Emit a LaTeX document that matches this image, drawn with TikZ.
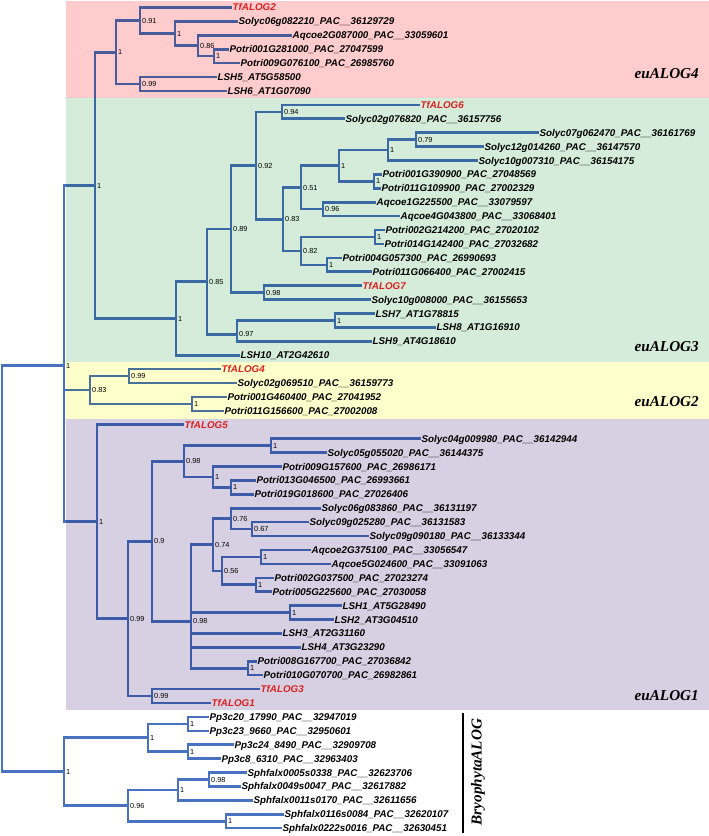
\documentclass[tikz,border=0pt]{standalone}
\usepackage{fontspec}
\usepackage{tikz}
\newfontfamily\leaffont{Liberation Sans}
\newfontfamily\cladefont{Liberation Serif}
\definecolor{treeblue}{RGB}{72,114,192}
\definecolor{tfred}{RGB}{220,32,32}
\definecolor{eufour}{RGB}{255,204,206}
\definecolor{euthree}{RGB}{212,236,217}
\definecolor{eutwo}{RGB}{255,255,204}
\definecolor{euone}{RGB}{215,208,226}
\pgfdeclarelayer{branches}
\pgfdeclarelayer{shades}
\pgfsetlayers{branches,shades,main}

\begin{document}
\begin{tikzpicture}[
        x=1pt, y=-13.91pt,
        leaf/.style={anchor=west,inner sep=1.5pt,text height=7pt,text depth=0pt,
            font=\leaffont\bfseries\itshape\fontsize{9.8}{11}\selectfont},
        tf/.style={leaf,text=tfred},
        fork/.style={circle,inner sep=0pt,minimum size=0pt},
        supp/.style={fork,label={[xshift=1.8pt,inner sep=0pt,text height=5.2pt,text depth=0pt,
            font=\leaffont\fontsize{7.3}{8}\selectfont]east:#1}},
        clade/.style={inner sep=0pt,font=\cladefont\bfseries\itshape\fontsize{15.2}{17}\selectfont},
        every edge/.style={draw=treeblue,line width=2.6pt,line cap=rect,to path={|- (\tikztotarget)}}
    ]
    \useasboundingbox (0,-0.5392) rectangle (709,59.562);

    \node[tf]   (tf2)   at (231,0)  {TfALOG2};
    \node[leaf] (so06)  at (237,1)  {Solyc06g082210\_PAC\_\_36129729};
    \node[leaf] (aq2)   at (291,2)  {Aqcoe2G087000\_PAC\_\_33059601};
    \node[leaf] (po01)  at (228,3)  {Potri001G281000\_PAC\_27047599};
    \node[leaf] (po09)  at (239,4)  {Potri009G076100\_PAC\_26985760};
    \node[leaf] (lsh5)  at (216,5)  {LSH5\_AT5G58500};
    \node[leaf] (lsh6)  at (226,6)  {LSH6\_AT1G07090};

    \node[tf]   (tf6)   at (419,7)  {TfALOG6};
    \node[leaf] (so02)  at (344,8)  {Solyc02g076820\_PAC\_\_36157756};
    \node[leaf] (so07)  at (538,9)  {Solyc07g062470\_PAC\_\_36161769};
    \node[leaf] (so12)  at (483,10) {Solyc12g014260\_PAC\_\_36147570};
    \node[leaf] (so10)  at (477,11) {Solyc10g007310\_PAC\_\_36154175};
    \node[leaf] (po01b) at (381,12) {Potri001G390900\_PAC\_27048569};
    \node[leaf] (po11)  at (380,13) {Potri011G109900\_PAC\_27002329};
    \node[leaf] (aq1)   at (375,14) {Aqcoe1G225500\_PAC\_\_33079597};
    \node[leaf] (aq4)   at (399,15) {Aqcoe4G043800\_PAC\_\_33068401};
    \node[leaf] (po02)  at (384,16) {Potri002G214200\_PAC\_27020102};
    \node[leaf] (po14)  at (383,17) {Potri014G142400\_PAC\_27032682};
    \node[leaf] (po04)  at (341,18) {Potri004G057300\_PAC\_26990693};
    \node[leaf] (po11b) at (371,19) {Potri011G066400\_PAC\_27002415};
    \node[tf]   (tf7)   at (361,20) {TfALOG7};
    \node[leaf] (so10b) at (370,21) {Solyc10g008000\_PAC\_\_36155653};
    \node[leaf] (lsh7)  at (374,22) {LSH7\_AT1G78815};
    \node[leaf] (lsh8)  at (435,23) {LSH8\_AT1G16910};
    \node[leaf] (lsh9)  at (371,24) {LSH9\_AT4G18610};
    \node[leaf] (lsh10) at (239,25) {LSH10\_AT2G42610};

    \node[tf]   (tf4)   at (220,26) {TfALOG4};
    \node[leaf] (so02b) at (236,27) {Solyc02g069510\_PAC\_\_36159773};
    \node[leaf] (po01c) at (226,28) {Potri001G460400\_PAC\_27041952};
    \node[leaf] (po11c) at (223,29) {Potri011G156600\_PAC\_27002008};

    \node[tf]   (tf5)   at (183,30) {TfALOG5};
    \node[leaf] (so04)  at (420,31) {Solyc04g009980\_PAC\_\_36142944};
    \node[leaf] (so05)  at (326,32) {Solyc05g055020\_PAC\_\_36144375};
    \node[leaf] (po09b) at (281,33) {Potri009G157600\_PAC\_26986171};
    \node[leaf] (po13)  at (255,34) {Potri013G046500\_PAC\_26993661};
    \node[leaf] (po19)  at (253,35) {Potri019G018600\_PAC\_27026406};
    \node[leaf] (so06b) at (320,36) {Solyc06g083860\_PAC\_\_36131197};
    \node[leaf] (so09)  at (308,37) {Solyc09g025280\_PAC\_\_36131583};
    \node[leaf] (so09b) at (368,38) {Solyc09g090180\_PAC\_\_36133344};
    \node[leaf] (aq2b)  at (310,39) {Aqcoe2G375100\_PAC\_\_33056547};
    \node[leaf] (aq5)   at (330,40) {Aqcoe5G024600\_PAC\_\_33091063};
    \node[leaf] (po02b) at (273,41) {Potri002G037500\_PAC\_27023274};
    \node[leaf] (po05)  at (271,42) {Potri005G225600\_PAC\_27030058};
    \node[leaf] (lsh1)  at (341,43) {LSH1\_AT5G28490};
    \node[leaf] (lsh2)  at (333,44) {LSH2\_AT3G04510};
    \node[leaf] (lsh3)  at (281,45) {LSH3\_AT2G31160};
    \node[leaf] (lsh4)  at (300,46) {LSH4\_AT3G23290};
    \node[leaf] (po08)  at (256,47) {Potri008G167700\_PAC\_27036842};
    \node[leaf] (po10)  at (262,48) {Potri010G070700\_PAC\_26982861};
    \node[tf]   (tf3)   at (259,49) {TfALOG3};
    \node[tf]   (tf1)   at (210,50) {TfALOG1};

    \node[leaf] (pp20)  at (208,51) {Pp3c20\_17990\_PAC\_\_32947019};
    \node[leaf] (pp23)  at (208,52) {Pp3c23\_9660\_PAC\_\_32950601};
    \node[leaf] (pp24)  at (233,53) {Pp3c24\_8490\_PAC\_\_32909708};
    \node[leaf] (pp8)   at (220,54) {Pp3c8\_6310\_PAC\_\_32963403};
    \node[leaf] (sf05)  at (246,55) {Sphfalx0005s0338\_PAC\_\_32623706};
    \node[leaf] (sf49)  at (240,56) {Sphfalx0049s0047\_PAC\_\_32617882};
    \node[leaf] (sf11)  at (252,57) {Sphfalx0011s0170\_PAC\_\_32611656};
    \node[leaf] (sf116) at (283,58) {Sphfalx0116s0084\_PAC\_\_32620107};
    \node[leaf] (sf222) at (281,59) {Sphfalx0222s0016\_PAC\_\_32630451};

    \node[supp=1]    (p1)  at (214,3.5) {};
    \node[supp=0.86] (p2)  at (198,2.75) {};
    \node[supp=1]    (p3)  at (175,1.875) {};
    \node[supp=0.91] (p4)  at (140,0.9375) {};
    \node[supp=0.99] (p5)  at (140,5.5) {};
    \node[supp=1]    (p6)  at (116,3.22) {};

    \node[supp=0.94] (g1)  at (282,7.5) {};
    \node[supp=0.79] (g2)  at (416,9.5) {};
    \node[supp=1]    (g3)  at (388,10.25) {};
    \node[supp=1]    (g4)  at (374,12.5) {};
    \node[supp=1]    (g5)  at (339,11.375) {};
    \node[supp=0.96] (g6)  at (323,14.5) {};
    \node[supp=0.51] (g7)  at (301,12.94) {};
    \node[supp=1]    (g8)  at (375,16.5) {};
    \node[supp=1]    (g9)  at (327,18.5) {};
    \node[supp=0.82] (g10) at (301,17.5) {};
    \node[supp=0.83] (g11) at (283,15.22) {};
    \node[supp=0.92] (g12) at (256,11.36) {};
    \node[supp=0.98] (g13) at (264,20.5) {};
    \node[supp=0.89] (g14) at (231,15.93) {};
    \node[supp=1]    (g15) at (335,22.5) {};
    \node[supp=0.97] (g16) at (237,23.5) {};
    \node[supp=0.85] (g17) at (207,19.71) {};
    \node[supp=1]    (g18) at (176,22.36) {};
    \node[supp=1]    (b1)  at (95,12.79) {};

    \node[supp=0.99] (y1)  at (129,26.5) {};
    \node[supp=1]    (y2)  at (192,28.5) {};
    \node[supp=0.83] (y3)  at (90,27.5) {};

    \node[supp=1]    (u1)  at (271,31.5) {};
    \node[supp=1]    (u2)  at (231,34.5) {};
    \node[supp=1]    (u3)  at (213,33.75) {};
    \node[supp=0.98] (u4)  at (184,32.625) {};
    \node[supp=0.67] (u5)  at (252,37.5) {};
    \node[supp=0.76] (u6)  at (231,36.75) {};
    \node[supp=1]    (u7)  at (261,39.5) {};
    \node[supp=1]    (u8)  at (256,41.5) {};
    \node[supp=0.56] (u9)  at (222,40.5) {};
    \node[supp=0.74] (u10) at (213,38.625) {};
    \node[supp=1]    (u11) at (290,43.5) {};
    \node[supp=1]    (u12) at (248,47.5) {};
    \node[supp=0.98] (u13) at (191,44.125) {};
    \node[supp=0.9]  (u14) at (152,38.375) {};
    \node[supp=0.99] (u15) at (152,49.5) {};
    \node[supp=0.99] (u16) at (128,43.94) {};
    \node[supp=1]    (u17) at (97,36.97) {};
    \node[supp=1]    (a1)  at (64,25.75) {};

    \node[supp=1]    (q1)  at (188,51.5) {};
    \node[supp=1]    (q2)  at (188,53.5) {};
    \node[supp=1]    (q3)  at (148,52.5) {};
    \node[supp=0.98] (q4)  at (209,55.5) {};
    \node[supp=1]    (q5)  at (178,56.25) {};
    \node[supp=1]    (q6)  at (226,58.5) {};
    \node[supp=0.96] (q7)  at (128,57.375) {};
    \node[supp=1]    (q8)  at (64,54.94) {};
    \node[fork]      (root) at (2,40.34) {};

    \begin{pgfonlayer}{branches}
    \path (p1) edge (po01) edge (po09);
    \path (p2) edge (aq2) edge (p1);
    \path (p3) edge (so06) edge (p2);
    \path (p4) edge (tf2) edge (p3);
    \path (p5) edge (lsh5) edge (lsh6);
    \path (p6) edge (p4) edge (p5);

    \path (g1) edge (tf6) edge (so02);
    \path (g2) edge (so07) edge (so12);
    \path (g3) edge (g2) edge (so10);
    \path (g4) edge (po01b) edge (po11);
    \path (g5) edge (g3) edge (g4);
    \path (g6) edge (aq1) edge (aq4);
    \path (g7) edge (g5) edge (g6);
    \path (g8) edge (po02) edge (po14);
    \path (g9) edge (po04) edge (po11b);
    \path (g10) edge (g8) edge (g9);
    \path (g11) edge (g7) edge (g10);
    \path (g12) edge (g1) edge (g11);
    \path (g13) edge (tf7) edge (so10b);
    \path (g14) edge (g12) edge (g13);
    \path (g15) edge (lsh7) edge (lsh8);
    \path (g16) edge (g15) edge (lsh9);
    \path (g17) edge (g14) edge (g16);
    \path (g18) edge (g17) edge (lsh10);
    \path (b1) edge (p6) edge (g18);

    \path (y1) edge (tf4) edge (so02b);
    \path (y2) edge (po01c) edge (po11c);
    \path (y3) edge (y1) edge (y2);

    \path (u1) edge (so04) edge (so05);
    \path (u2) edge (po13) edge (po19);
    \path (u3) edge (po09b) edge (u2);
    \path (u4) edge (u1) edge (u3);
    \path (u5) edge (so09) edge (so09b);
    \path (u6) edge (so06b) edge (u5);
    \path (u7) edge (aq2b) edge (aq5);
    \path (u8) edge (po02b) edge (po05);
    \path (u9) edge (u7) edge (u8);
    \path (u10) edge (u6) edge (u9);
    \path (u11) edge (lsh1) edge (lsh2);
    \path (u12) edge (po08) edge (po10);
    \path (u13) edge (u10) edge (u11) edge (lsh3) edge (lsh4) edge (u12);
    \path (u14) edge (u4) edge (u13);
    \path (u15) edge (tf3) edge (tf1);
    \path (u16) edge (u14) edge (u15);
    \path (u17) edge (tf5) edge (u16);
    \path (a1) edge (b1) edge (y3) edge (u17);

    \path (q1) edge (pp20) edge (pp23);
    \path (q2) edge (pp24) edge (pp8);
    \path (q3) edge (q1) edge (q2);
    \path (q4) edge (sf05) edge (sf49);
    \path (q5) edge (q4) edge (sf11);
    \path (q6) edge (sf116) edge (sf222);
    \path (q7) edge (q5) edge (q6);
    \path (q8) edge (q3) edge (q7);
    \path (root) edge (a1) edge (q8);
    \end{pgfonlayer}

    \begin{pgfonlayer}{shades}
    \begin{scope}[blend mode=multiply]
        \fill[eufour]  (66,-0.45) rectangle (709,6.5);
        \fill[euthree] (66,6.5)   rectangle (709,25.5);
        \fill[eutwo]   (66,25.5)  rectangle (709,29.6);
        \fill[euone]   (66,29.6)  rectangle (709,50.5);
    \end{scope}
    \end{pgfonlayer}

    \node[clade,anchor=east] (eu4) at (699,4.78)  {euALOG4};
    \node[clade,anchor=east] (eu3) at (699,24.41) {euALOG3};
    \node[clade,anchor=east] (eu2) at (699,28.36) {euALOG2};
    \node[clade,anchor=east] (eu1) at (699,49.5)  {euALOG1};

    \draw[line width=1.4pt] (463,50.72) -- (463,59.34);
    \node[clade,rotate=90] (bryo) at (478,54.96) {BryophytaALOG};
\end{tikzpicture}
\end{document}
